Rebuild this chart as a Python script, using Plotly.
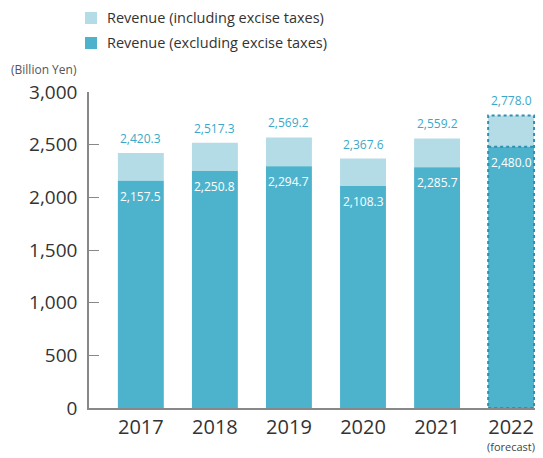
import plotly.graph_objects as go

years = ["2017", "2018", "2019", "2020", "2021", "2022"]
forecast_note = "(forecast)"
rev_excl = [2157.5, 2250.8, 2294.7, 2108.3, 2285.7, 2480.0]
rev_incl = [2420.3, 2517.3, 2569.2, 2367.6, 2559.2, 2778.0]
series_names = ["Revenue (including excise taxes)", "Revenue (excluding excise taxes)"]

DARK = "#4db3cd"
LIGHT = "#b3dce6"
LABEL = "#3aa8c8"
FONT = "Open Sans"

xs = list(range(len(years)))
diff = [round(i - e, 1) for i, e in zip(rev_incl, rev_excl)]
BARW = 0.62

fig = go.Figure()
fig.add_trace(go.Bar(
    x=xs, y=diff, base=rev_excl, name=series_names[0],
    marker=dict(color=LIGHT, line=dict(width=0)), width=BARW,
    showlegend=False, hoverinfo="skip",
))
fig.add_trace(go.Bar(
    x=xs, y=rev_excl, name=series_names[1],
    marker=dict(color=DARK, line=dict(width=0)), width=BARW,
    showlegend=False,
))

for i, v in enumerate(rev_incl):
    fig.add_annotation(x=xs[i], y=v, text=f"{v:,.1f}", showarrow=False,
                       yanchor="bottom", yshift=4,
                       font=dict(color=LABEL, size=12, family=FONT))
for i, v in enumerate(rev_excl):
    fig.add_annotation(x=xs[i], y=v, text=f"{v:,.1f}", showarrow=False,
                       yanchor="top", yshift=-5,
                       font=dict(color="white", size=12, family=FONT))

# dotted outline for forecast bar
fi = len(years) - 1
fig.add_shape(type="rect", xref="x", yref="y",
              x0=xs[fi] - BARW / 2, x1=xs[fi] + BARW / 2, y0=0, y1=rev_incl[fi],
              line=dict(color="#2f8fae", width=2, dash="dot"))
fig.add_shape(type="line", xref="x", yref="y",
              x0=xs[fi] - BARW / 2, x1=xs[fi] + BARW / 2,
              y0=rev_excl[fi], y1=rev_excl[fi],
              line=dict(color="#2f8fae", width=2, dash="dot"))
fig.add_annotation(x=xs[fi], xref="x", yref="paper", y=-0.1234,
                   text=forecast_note, showarrow=False, yanchor="middle",
                   font=dict(size=11, color="#444", family=FONT))

# legend (manual, to match placement)
leg = [(series_names[0], LIGHT, 1.2532, 1.2152, 1.2342),
       (series_names[1], DARK, 1.1741, 1.1361, 1.1551)]
for name, col, ytop, ybot, yc in leg:
    fig.add_shape(type="rect", xref="paper", yref="paper",
                  x0=-0.0089, x1=0.0177, y0=ybot, y1=ytop,
                  fillcolor=col, line=dict(width=0))
    fig.add_annotation(xref="paper", yref="paper", x=0.0355, y=yc,
                       xanchor="left", yanchor="middle", showarrow=False,
                       text=name, font=dict(size=14.5, color="#333", family=FONT))

fig.add_annotation(xref="paper", yref="paper", x=-0.178, y=1.07,
                   xanchor="left", yanchor="middle", showarrow=False,
                   text="(Billion Yen)", font=dict(size=12, color="#555", family=FONT))

fig.update_layout(
    width=535, height=450,
    margin=dict(l=81, r=3, t=84, b=50),
    barmode="overlay",
    showlegend=False,
    plot_bgcolor="white", paper_bgcolor="white",
    font=dict(family=FONT, color="#333"),
    xaxis=dict(range=[-0.70, 5.39], tickmode="array", tickvals=xs,
               ticktext=years, showline=True, linecolor="#888",
               linewidth=1.5, ticks="", showgrid=False, zeroline=False,
               tickfont=dict(size=20, color="#333", family=FONT)),
    yaxis=dict(range=[0, 3000], tickvals=[0, 500, 1000, 1500, 2000, 2500, 3000],
               tickformat=",", showline=True, linecolor="#888", linewidth=1.5,
               ticks="inside", ticklen=10, tickcolor="#888", showgrid=False,
               zeroline=False, ticklabelstandoff=6,
               tickfont=dict(size=19, color="#333", family=FONT)),
)

fig.write_html("out.html")
